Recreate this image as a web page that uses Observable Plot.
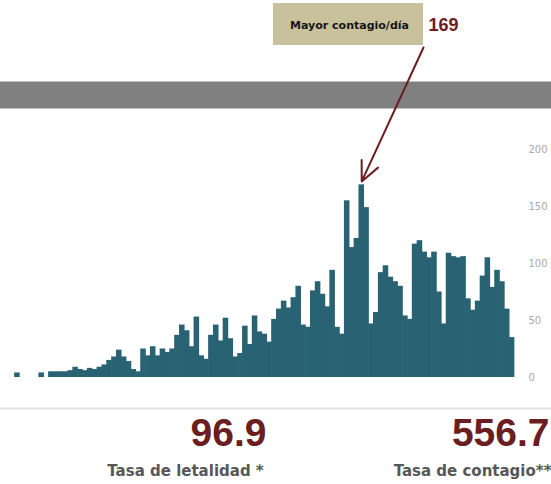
<!DOCTYPE html>
<html><head><meta charset="utf-8">
<script src="https://cdn.jsdelivr.net/npm/d3@7"></script>
<script src="https://cdn.jsdelivr.net/npm/@observablehq/plot@0.6"></script>
<style>
html,body{margin:0;padding:0;background:#fff;}
#chart{width:551px;height:484px;overflow:hidden;}
</style></head><body><div id="chart"></div>
<script>
// daily new cases
const cases = [4,0,0,0,0,4,0,
5,5,5,5,6,9,7,6,8,7,9,11,15,18,24,18,14,7,5,25,19,27,19,25,22,25,37,
46,41,27,53,19,16,37,46,32,52,34,18,21,45,29,54,40,38,31,51,60,67,61,70,80,46,44,76,84,73,62,94,44,38,
155,114,122,169,149,47,57,92,98,88,84,80,54,51,117,120,110,105,110,75,47,109,106,105,106,69,59,67,89,105,79,94,84,60,35];
const yTicks = [0, 50, 100, 150, 200];
const peakLabel = ["Mayor contagio/día"];
const peakValue = [169];
const statValues = ["96.9", "556.7"];
const statLabels = ["Tasa de letalidad *", "Tasa de contagio**"];

const W = 551, H = 484;
const ml = 14.5, mr = 37, mt = 149, mb = 107;
const n = cases.length;
const data = cases.map((v, i) => ({day: i, v}));
const peakIdx = cases.indexOf(d3.max(cases));

// helpers to place annotations in data units from layout pixels
const xv = px => (px - ml) / ((W - ml - mr) / n);
const yv = py => (H - mb - py) * 200 / (H - mb - mt);
const full = {insetLeft: -ml, insetRight: -mr};
const maroon = "#6b1d21";

const chart = Plot.plot({
  width: W, height: H,
  marginLeft: ml, marginRight: mr, marginTop: mt, marginBottom: mb,
  x: {domain: [0, n], axis: null},
  y: {domain: [0, 200], label: null},
  style: {background: "#fff", fontFamily: "DejaVu Sans"},
  marks: [
    Plot.ruleY([yv(94.5)], {stroke: "#808080", strokeWidth: 27, ...full}),
    Plot.ruleY([yv(408)], {stroke: "#e4e4e4", strokeWidth: 2, ...full}),
    Plot.rectY(data, {x1: "day", x2: d => d.day + 1, y: "v", fill: "#296373", insetLeft: -0.35, insetRight: -0.35}),
    Plot.axisY(yTicks, {anchor: "right", label: null, tickSize: 0, tickPadding: 14, fontSize: 10, fill: "#a8a8a8", fontFamily: "DejaVu Sans"}),
    Plot.rect([0], {x1: xv(273), x2: xv(423), y1: yv(45), y2: yv(3), fill: "#c9c19c"}),
    Plot.text(peakLabel, {x: xv(349), y: yv(25), text: d => d, fontSize: 11, fontWeight: "bold", fill: "#161616", fontFamily: "DejaVu Sans"}),
    Plot.text(peakValue, {x: xv(428), y: yv(25), text: d => String(d), textAnchor: "start", fontSize: 18, fontWeight: "bold", fill: maroon, fontFamily: "Liberation Sans"}),
    Plot.arrow([0], {x1: xv(423), y1: yv(47), x2: peakIdx + 0.5, y2: peakValue[0] + 3, stroke: maroon, strokeWidth: 2, headLength: 16, headAngle: 50}),
    Plot.text([statValues[0]], {x: xv(228), y: yv(433), text: d => d, fontSize: 39, fontWeight: "bold", fill: maroon, fontFamily: "Liberation Sans"}),
    Plot.text([statValues[1]], {x: xv(549), y: yv(433), text: d => d, textAnchor: "end", fontSize: 39, fontWeight: "bold", fill: maroon, fontFamily: "Liberation Sans"}),
    Plot.text([statLabels[0]], {x: xv(185), y: yv(471), text: d => d, fontSize: 15, fontWeight: "bold", fill: "#575757", fontFamily: "DejaVu Sans"}),
    Plot.text([statLabels[1]], {x: xv(551), y: yv(471), text: d => d, textAnchor: "end", fontSize: 15, fontWeight: "bold", fill: "#575757", fontFamily: "DejaVu Sans"})
  ]
});
document.getElementById("chart").append(chart);
</script></body></html>
